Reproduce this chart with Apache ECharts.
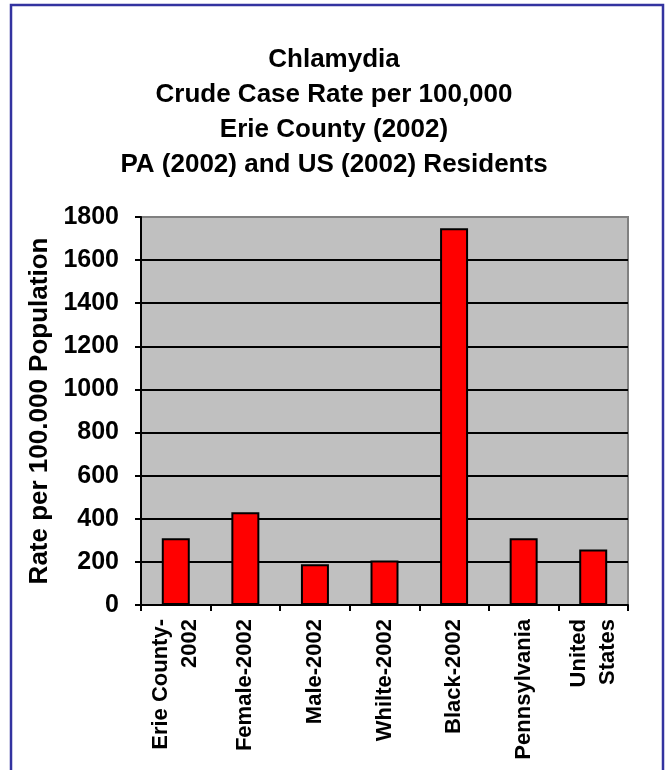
<!DOCTYPE html>
<html>
<head>
<meta charset="utf-8">
<script src="https://cdn.jsdelivr.net/npm/echarts@6/dist/echarts.min.js"></script>
<style>
html,body{margin:0;padding:0;background:#fff;}
#chart{width:668px;height:770px;}
</style>
</head>
<body>
<div id="chart"></div>
<script>
const titleLines = ['Chlamydia', 'Crude Case Rate per 100,000', 'Erie County (2002)', 'PA (2002) and US (2002) Residents'];
const categories = ['Erie County-\n2002', 'Female-2002', 'Male-2002', 'Whilte-2002', 'Black-2002', 'Pennsylvania', 'United\nStates'];
const rates = [310, 430, 189, 206, 1748, 310, 258];
const yAxisName = 'Rate per 100.000 Population';
const yMin = 0, yMax = 1800, yStep = 200;

const font = '"Liberation Sans", Arial, sans-serif';
const nLines = (yMax - yMin) / yStep + 1;
const splitColors = [];
for (let i = 0; i < nLines; i++) splitColors.push(i === nLines - 1 ? '#808080' : '#000000');

const chart = echarts.init(document.getElementById('chart'), null, {renderer: 'canvas'});
chart.setOption({
  backgroundColor: '#ffffff',
  animation: false,
  title: {
    text: titleLines.join('\n'),
    left: 'center',
    top: 37,
    textStyle: {fontFamily: font, fontWeight: 'bold', fontSize: 26, lineHeight: 35, color: '#000'}
  },
  graphic: [{
    type: 'rect',
    shape: {x: 11, y: 5, width: 652, height: 800},
    style: {fill: 'none', stroke: '#3333a0', lineWidth: 2.5},
    silent: true,
    z: 100
  }],
  grid: {
    left: 141, right: 40, top: 217, bottom: 165,
    show: true, backgroundColor: '#c0c0c0', borderColor: '#808080', borderWidth: 2
  },
  xAxis: {
    type: 'category',
    data: categories,
    boundaryGap: true,
    axisLine: {show: true, lineStyle: {color: '#000', width: 2}},
    axisTick: {show: true, alignWithLabel: false, length: 6, lineStyle: {color: '#000', width: 2}},
    axisLabel: {
      rotate: 90, interval: 0, margin: 14,
      fontFamily: font, fontWeight: 'bold', fontSize: 22, lineHeight: 29, color: '#000'
    },
    splitLine: {show: false}
  },
  yAxis: {
    type: 'value',
    min: yMin, max: yMax, interval: yStep,
    name: yAxisName,
    nameLocation: 'middle',
    nameRotate: 90,
    nameGap: 79,
    nameTextStyle: {fontFamily: font, fontWeight: 'bold', fontSize: 26, color: '#000'},
    axisLine: {show: true, lineStyle: {color: '#000', width: 2}},
    axisTick: {show: true, length: 6, lineStyle: {color: '#000', width: 2}},
    axisLabel: {margin: 22, fontFamily: font, fontWeight: 'bold', fontSize: 25, color: '#000', formatter: function (v) { return String(v); }},
    splitLine: {show: true, lineStyle: {color: splitColors, width: 2}}
  },
  series: [{
    type: 'bar',
    data: rates,
    barWidth: 28,
    itemStyle: {color: '#ff0000', borderColor: '#000', borderWidth: 2}
  }]
});
</script>
</body>
</html>
